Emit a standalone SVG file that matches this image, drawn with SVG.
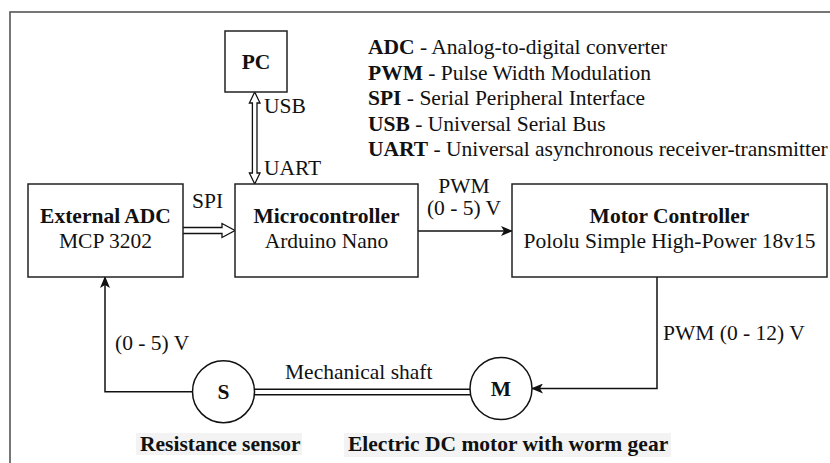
<svg xmlns="http://www.w3.org/2000/svg" width="830" height="463" viewBox="0 0 830 463">
<defs>
<style>
text{font-family:'Liberation Serif','Times New Roman',serif;font-size:21.5px;fill:#111}
.b{font-weight:bold}
.m{text-anchor:middle}
.box{fill:#fff;stroke:#222;stroke-width:1.5}
.ln{fill:none;stroke:#111;stroke-width:1.5}
.hollow{fill:#fff;stroke:#111;stroke-width:1.3;stroke-linejoin:miter}
</style>
<marker id="arr" viewBox="0 0 12 10" refX="11" refY="5" markerWidth="12" markerHeight="10" markerUnits="userSpaceOnUse" orient="auto">
<path d="M0,0 L12,5 L0,10 L3,5 Z" fill="#111"/>
</marker>
</defs>
<rect x="0" y="0" width="830" height="463" fill="#fff"/>
<rect x="10" y="12" width="840" height="480" fill="none" stroke="#555" stroke-width="1.6"/>

<g font-family="Liberation Serif, serif">
<g id="legend">
<text x="368" y="54"><tspan class="b">ADC</tspan> - Analog-to-digital converter</text>
<text x="368" y="79.5"><tspan class="b">PWM</tspan> - Pulse Width Modulation</text>
<text x="368" y="105"><tspan class="b">SPI</tspan> - Serial Peripheral Interface</text>
<text x="368" y="130.5"><tspan class="b">USB</tspan> - Universal Serial Bus</text>
<text x="368" y="156"><tspan class="b">UART</tspan> - Universal asynchronous receiver-transmitter</text>
</g>

<g id="connectors">
<path class="hollow" d="M254.7,92 L260,103 L257,103 L257,173 L260,173 L254.7,184 L249.4,173 L252.4,173 L252.4,103 L249.4,103 Z"/>
<path class="hollow" d="M183,227.5 L222,227.5 L222,223.5 L235,230.5 L222,237.5 L222,233.5 L183,233.5"/>
<line class="ln" x1="418" y1="231" x2="512" y2="231" marker-end="url(#arr)"/>
<polyline class="ln" points="657,277 657,388.5 532,388.5" marker-end="url(#arr)"/>
<polyline class="ln" points="192.5,391.7 105,391.7 105,277" marker-end="url(#arr)"/>
<line class="ln" x1="254" y1="389.3" x2="470" y2="389.3" stroke-width="1.3"/>
<line class="ln" x1="254" y1="394.7" x2="470" y2="394.7" stroke-width="1.3"/>
<text x="115" y="350">(0 - 5) V</text>
<text x="285" y="379">Mechanical shaft</text>
<text x="663" y="340">PWM (0 - 12) V</text>
<text x="192" y="208">SPI</text>
<text x="264" y="113">USB</text>
<text x="264" y="175">UART</text>
<text class="m" x="464" y="193">PWM</text>
<text class="m" x="464" y="215">(0 - 5) V</text>
</g>

<g id="pc">
<rect class="box" x="225" y="31" width="62" height="61"/>
<text class="b m" x="256" y="69">PC</text>
</g>

<g id="adc">
<rect class="box" x="28" y="184" width="155" height="93"/>
<text class="b m" x="105.5" y="223">External ADC</text>
<text class="m" x="105.5" y="248">MCP 3202</text>
</g>

<g id="micro">
<rect class="box" x="235" y="184" width="183" height="93"/>
<text class="b m" x="326.5" y="223">Microcontroller</text>
<text class="m" x="326.5" y="248">Arduino Nano</text>
</g>

<g id="motorctrl">
<rect class="box" x="512" y="184" width="315" height="93"/>
<text class="b m" x="669.5" y="223">Motor Controller</text>
<text class="m" x="669.5" y="248">Pololu Simple High-Power 18v15</text>
</g>

<g id="sensor">
<circle cx="223.5" cy="391.7" r="31" fill="#fff" stroke="#111" stroke-width="1.5"/>
<text class="b m" x="223.5" y="399">S</text>
<rect x="136" y="433" width="166" height="22" fill="#f3f3f3"/>
<text class="b" x="140" y="451">Resistance sensor</text>
</g>

<g id="motor">
<circle cx="501" cy="388.5" r="31" fill="#fff" stroke="#111" stroke-width="1.5"/>
<text class="b m" x="501" y="396">M</text>
<rect x="344" y="433" width="327" height="24" fill="#f3f3f3"/>
<text class="b" x="348" y="451">Electric DC motor with worm gear</text>
</g>
</g>
</svg>
